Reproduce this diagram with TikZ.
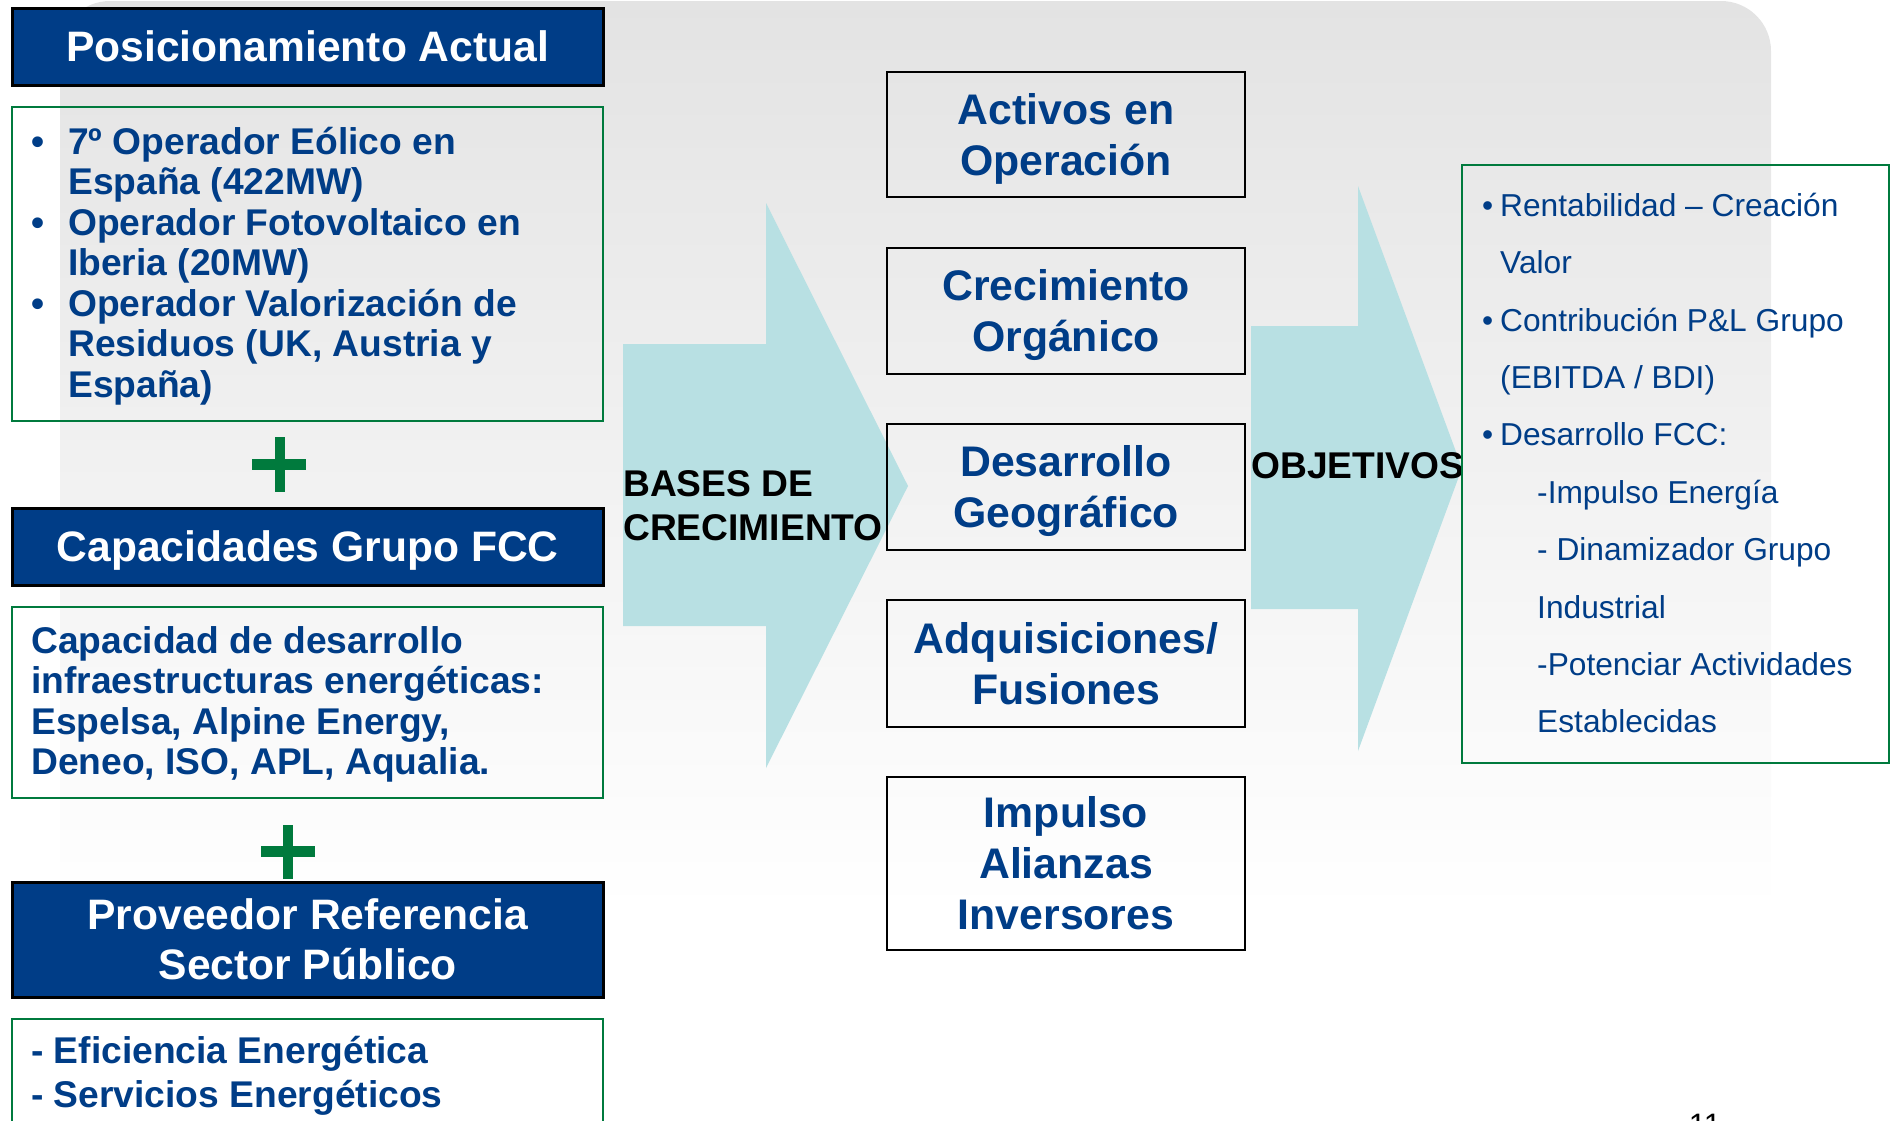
\documentclass[tikz,border=0pt]{standalone}
\usepackage{fontspec}
\setmainfont{Liberation Sans}
\definecolor{navy}{RGB}{0,61,135}
\definecolor{fccgreen}{RGB}{0,122,61}
\definecolor{arrowcyan}{RGB}{184,224,227}
\definecolor{bggray}{RGB}{227,227,227}
\setlength{\lineskiplimit}{-50pt}
\newcommand\mystrut{\rule[-0.2\baselineskip]{0pt}{\baselineskip}}
\pgfdeclareverticalshading{bgfade}{100bp}{color(0bp)=(white); color(40bp)=(white); color(75bp)=(bggray); color(100bp)=(bggray)}
\begin{document}
\begin{tikzpicture}[x=1pt,y=-1pt,
  titlebox/.style={draw=black,line width=2.5pt,fill=navy,text=white,
    font=\fontsize{42.6}{50}\selectfont\bfseries,align=center,inner sep=0pt,
    minimum width=591pt,anchor=north west},
  greenbox/.style={draw=fccgreen,line width=2pt,inner sep=0pt,minimum width=591pt,anchor=north west},
  midbox/.style={draw=black,line width=2.5pt,text=navy,
    font=\fontsize{42.8}{51}\selectfont\bfseries,align=center,inner sep=0pt,
    minimum width=358pt},
  lefttext/.style={text=navy,font=\fontsize{37.2}{40.5}\selectfont\bfseries,
    align=left,inner sep=0pt,anchor=north west},
  righttext/.style={text=navy,font=\fontsize{31.7}{57.4}\selectfont,
    align=left,inner sep=0pt,anchor=north west},
  blacklabel/.style={text=black,font=\fontsize{37.2}{44}\selectfont\bfseries,
    align=left,inner sep=0pt},
  bigarrow/.style={fill=arrowcyan,draw=none},
  plusbar/.style={fill=fccgreen,draw=none}
]
\useasboundingbox (0,0) rectangle (1892,1120);
\clip (0,0) rectangle (1892,1120);
% background (fades to white, rounded top corners)
\shade[shading=bgfade] (60,1300) [rounded corners=50pt]-- (60,1) -- (1771,1) [sharp corners]-- (1771,1300) -- cycle;
% arrows
\fill[bigarrow] (623,344) -- (766,344) -- (766,203) -- (908,486) -- (766,768) -- (766,626) -- (623,626) -- cycle;
\fill[bigarrow] (1251,326) -- (1358,326) -- (1358,186) -- (1462,468) -- (1358,751) -- (1358,609) -- (1251,609) -- cycle;
% left column
\node[titlebox,minimum height=77pt] (t1) at (11,7) {\mystrut Posicionamiento Actual};
\node[greenbox,minimum height=314pt] (g1) at (11,106) {};
\node[lefttext] (g1text) at (31,121.6) {\mystrut\makebox[37pt][l]{•}7º Operador Eólico en\\
\mystrut\hspace*{37pt}España (422MW)\\
\mystrut\makebox[37pt][l]{•}Operador Fotovoltaico en\\
\mystrut\hspace*{37pt}Iberia (20MW)\\
\mystrut\makebox[37pt][l]{•}Operador Valorización de\\
\mystrut\hspace*{37pt}Residuos (UK, Austria y\\
\mystrut\hspace*{37pt}España)};
\fill[plusbar] (274.5,437) rectangle (284.5,492);
\fill[plusbar] (252,459) rectangle (306,470);
\node[titlebox,minimum height=77pt] (t2) at (11,507) {\mystrut Capacidades Grupo FCC};
\node[greenbox,minimum height=191pt] (g2) at (11,606) {};
\node[lefttext] (g2text) at (31,620.6) {\mystrut Capacidad de desarrollo\\
\mystrut infraestructuras energéticas:\\
\mystrut Espelsa, Alpine Energy,\\
\mystrut Deneo, ISO, APL, Aqualia.};
\fill[plusbar] (283,825) rectangle (293,879);
\fill[plusbar] (261,845.5) rectangle (315,856.5);
\node[titlebox,minimum height=115pt] (t3) at (11,881) {\mystrut Proveedor Referencia\\\mystrut Sector Público};
\node[greenbox,minimum height=120pt] (g3) at (11,1018) {};
\node[lefttext,font=\fontsize{37.2}{44}\selectfont\bfseries] (g3text) at (31,1027.8) {\mystrut - Eficiencia Energética\\
\mystrut - Servicios Energéticos};
% labels on arrows
\node[blacklabel,anchor=north west] (bases) at (623,460.8) {\mystrut BASES DE\\\mystrut CRECIMIENTO};
\node[blacklabel,anchor=base west] (obj) at (1251,478.6) {OBJETIVOS};
% middle boxes
\node[midbox,minimum height=125pt] (m1) at (1066,134.5) {\mystrut Activos en\\\mystrut Operación};
\node[midbox,minimum height=126pt] (m2) at (1066,311) {\mystrut Crecimiento\\\mystrut Orgánico};
\node[midbox,minimum height=126pt] (m3) at (1066,487) {\mystrut Desarrollo\\\mystrut Geográfico};
\node[midbox,minimum height=127pt] (m4) at (1066,663.5) {\mystrut Adquisiciones/\\\mystrut Fusiones};
\node[midbox,minimum height=173pt] (m5) at (1066,863.5) {\mystrut Impulso\\\mystrut Alianzas\\\mystrut Inversores};
% right box
\node[draw=fccgreen,line width=2pt,inner sep=0pt,minimum width=427pt,minimum height=598pt,anchor=north west] (obox) at (1461,164) {};
\node[righttext] (otext) at (1482,170.1) {\mystrut\makebox[18pt][l]{•}Rentabilidad – Creación\\
\mystrut\hspace*{18pt}Valor\\
\mystrut\makebox[18pt][l]{•}Contribución P\&L Grupo\\
\mystrut\hspace*{18pt}(EBITDA / BDI)\\
\mystrut\makebox[18pt][l]{•}Desarrollo FCC:\\
\mystrut\hspace*{55pt}-Impulso Energía\\
\mystrut\hspace*{55pt}- Dinamizador Grupo\\
\mystrut\hspace*{55pt}Industrial\\
\mystrut\hspace*{55pt}-Potenciar Actividades\\
\mystrut\hspace*{55pt}Establecidas};
% page number
\node[font=\fontsize{31}{33}\selectfont,anchor=base,inner sep=0pt] (pg) at (1705,1135) {11};
\end{tikzpicture}
\end{document}
